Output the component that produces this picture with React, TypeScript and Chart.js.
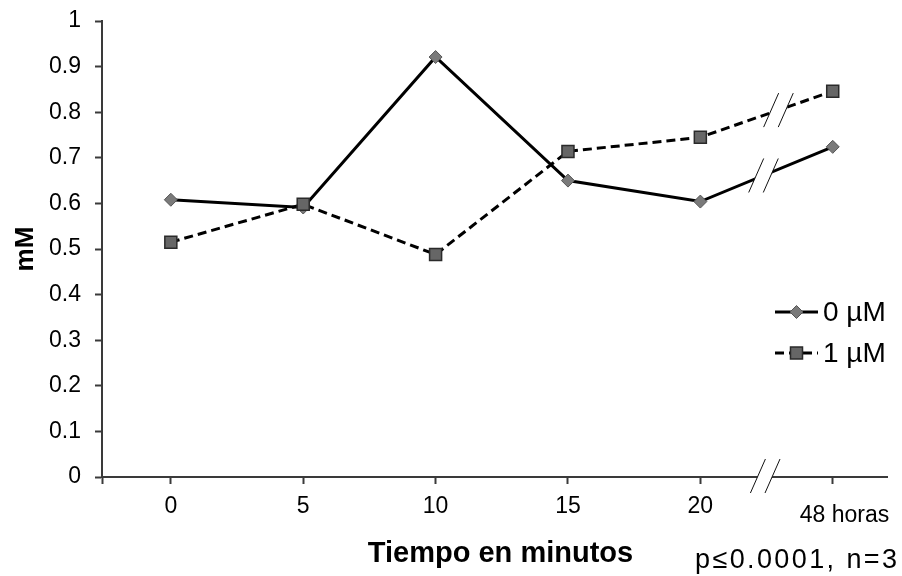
import React, { useEffect, useRef } from "react";
import { Chart, registerables } from "chart.js";

Chart.register(...registerables);

// ---- data ----
const categories = ["0", "5", "10", "15", "20", "48"];
const lastCategoryUnit = "horas";
const seriesLabels = ["0 µM", "1 µM"];
const series0 = [0.608, 0.591, 0.921, 0.65, 0.604, 0.724];
const series1 = [0.515, 0.598, 0.488, 0.714, 0.745, 0.846];
const yTicks = [0, 0.1, 0.2, 0.3, 0.4, 0.5, 0.6, 0.7, 0.8, 0.9, 1];
const xTitle = "Tiempo en minutos";
const yTitle = "mM";
const note = "p≤0.0001, n=3";

// axis range (in category-index units) and break positions
const X_MIN = -0.52;
const X_MAX = 5.41;
const AXIS_BREAK = 4.49;
const LINE_BREAKS = [4.477, 4.59];

const FONT = "'Liberation Sans', Arial, sans-serif";

function drawBreak(ctx: CanvasRenderingContext2D, cx: number, cy: number) {
  const hx = 7.5;
  const hy = 17;
  const sep = 7.3;
  ctx.save();
  ctx.fillStyle = "#ffffff";
  ctx.beginPath();
  ctx.moveTo(cx - sep - hx, cy + hy);
  ctx.lineTo(cx - sep + hx, cy - hy);
  ctx.lineTo(cx + sep + hx, cy - hy);
  ctx.lineTo(cx + sep - hx, cy + hy);
  ctx.closePath();
  ctx.fill();
  ctx.strokeStyle = "#111";
  ctx.lineWidth = 1;
  ctx.beginPath();
  ctx.moveTo(cx - sep - hx, cy + hy);
  ctx.lineTo(cx - sep + hx, cy - hy);
  ctx.moveTo(cx + sep - hx, cy + hy);
  ctx.lineTo(cx + sep + hx, cy - hy);
  ctx.stroke();
  ctx.restore();
}

function drawMarker(ctx: CanvasRenderingContext2D, ds: any, x: number, y: number) {
  const r = ds.pointRadius;
  ctx.save();
  ctx.fillStyle = ds.pointBackgroundColor;
  ctx.strokeStyle = ds.pointBorderColor;
  ctx.lineWidth = ds.pointBorderWidth;
  ctx.setLineDash([]);
  ctx.beginPath();
  if (ds.pointStyle === "rectRot") {
    ctx.moveTo(x - r, y);
    ctx.lineTo(x, y - r);
    ctx.lineTo(x + r, y);
    ctx.lineTo(x, y + r);
    ctx.closePath();
  } else {
    const s = r * Math.SQRT1_2;
    ctx.rect(x - s, y - s, 2 * s, 2 * s);
  }
  ctx.fill();
  ctx.stroke();
  ctx.restore();
}

const decorPlugin = {
  id: "decor",
  afterDraw(chart: any) {
    const ctx: CanvasRenderingContext2D = chart.ctx;
    const xs = chart.scales.x;
    const ys = chart.scales.y;
    const area = chart.chartArea;

    // break on the x axis
    drawBreak(ctx, xs.getPixelForValue(AXIS_BREAK), ys.getPixelForValue(0) - 1);

    // breaks on each line, between the last two points
    chart.data.datasets.forEach((ds: any, i: number) => {
      const meta = chart.getDatasetMeta(i);
      const n = meta.data.length;
      const p1 = meta.data[n - 2];
      const p2 = meta.data[n - 1];
      const bx = xs.getPixelForValue(LINE_BREAKS[i]);
      const t = (bx - p1.x) / (p2.x - p1.x);
      const by = p1.y + (p2.y - p1.y) * t;
      drawBreak(ctx, bx, by);
    });

    ctx.save();
    ctx.fillStyle = "#000";

    // last category label
    ctx.font = `23px ${FONT}`;
    ctx.textAlign = "left";
    ctx.textBaseline = "alphabetic";
    const lastX = xs.getPixelForValue(categories.length - 1);
    const lastText = `${categories[categories.length - 1]} ${lastCategoryUnit}`;
    ctx.fillText(lastText, lastX - 33, area.bottom + 45);

    // x title
    ctx.font = `bold 29px ${FONT}`;
    ctx.textAlign = "center";
    ctx.fillText(xTitle, (area.left + area.right) / 2 + 6, area.bottom + 85);

    // y title
    ctx.save();
    ctx.font = `bold 26px ${FONT}`;
    ctx.translate(area.left - 69, (area.top + area.bottom) / 2);
    ctx.rotate(-Math.PI / 2);
    ctx.textAlign = "center";
    ctx.fillText(yTitle, 0, 0);
    ctx.restore();

    // note
    ctx.font = `27px ${FONT}`;
    ctx.textAlign = "left";
    const w = ctx.measureText(note).width;
    const target = 202;
    (ctx as any).letterSpacing = `${Math.max(0, (target - w) / (note.length - 1))}px`;
    ctx.fillText(note, area.right - 192, area.bottom + 91);
    (ctx as any).letterSpacing = "0px";

    // legend
    const lx0 = area.right - 112;
    const lx1 = area.right - 69;
    const rows = [area.top + 291, area.top + 332];
    chart.data.datasets.forEach((ds: any, i: number) => {
      const y = rows[i];
      ctx.save();
      ctx.strokeStyle = ds.borderColor;
      ctx.lineWidth = ds.borderWidth;
      ctx.setLineDash(ds.borderDash || []);
      ctx.beginPath();
      ctx.moveTo(lx0, y);
      ctx.lineTo(lx1, y);
      ctx.stroke();
      ctx.restore();
      drawMarker(ctx, ds, (lx0 + lx1) / 2, y);
      ctx.fillStyle = "#000";
      ctx.font = `28px ${FONT}`;
      ctx.textAlign = "left";
      ctx.textBaseline = "middle";
      ctx.fillText(ds.label, lx1 + 5, y + 1);
    });
    ctx.restore();
  },
};

export default function App() {
  const ref = useRef<HTMLCanvasElement>(null);

  useEffect(() => {
    document.body.style.margin = "0";
    const canvas = ref.current!;
    const axisColor = "#3a3a3a";
    const chart = new Chart(canvas, {
      type: "line",
      data: {
        datasets: [
          {
            label: seriesLabels[0],
            data: series0.map((v, i) => ({ x: i, y: v })),
            borderColor: "#000",
            borderWidth: 3,
            pointStyle: "rectRot",
            pointRadius: 6.5,
            pointBackgroundColor: "#7a7a7a",
            pointBorderColor: "#555",
            pointBorderWidth: 1,
            tension: 0,
            order: 1,
          },
          {
            label: seriesLabels[1],
            data: series1.map((v, i) => ({ x: i, y: v })),
            borderColor: "#000",
            borderWidth: 3,
            borderDash: [9, 5],
            pointStyle: "rect",
            pointRadius: 8.5,
            pointBackgroundColor: "#666",
            pointBorderColor: "#2a2a2a",
            pointBorderWidth: 1.5,
            tension: 0,
            order: 0,
          },
        ] as any,
      },
      options: {
        responsive: false,
        animation: false,
        devicePixelRatio: 1,
        layout: { padding: { left: 0, top: 21, right: 15, bottom: 0 } },
        plugins: {
          legend: { display: false },
          tooltip: { enabled: false },
        },
        scales: {
          x: {
            type: "linear",
            min: X_MIN,
            max: X_MAX,
            afterBuildTicks: (scale: any) => {
              scale.ticks = [{ value: X_MIN }, ...categories.map((_, i) => ({ value: i }))];
            },
            afterFit: (scale: any) => {
              scale.height = 99;
              scale.paddingLeft = 0;
              scale.paddingRight = 0;
            },
            grid: {
              drawOnChartArea: false,
              drawTicks: true,
              tickLength: 7,
              tickColor: axisColor,
              tickWidth: 2,
            },
            border: { display: true, color: axisColor, width: 2 },
            ticks: {
              autoSkip: false,
              maxRotation: 0,
              padding: 9,
              color: "#000",
              font: { size: 23, family: FONT },
              callback: (value: any) =>
                Number.isInteger(value) && value < categories.length - 1 ? categories[value] : "",
            },
          },
          y: {
            type: "linear",
            min: 0,
            max: 1,
            afterBuildTicks: (scale: any) => {
              scale.ticks = yTicks.map((v) => ({ value: v }));
            },
            afterFit: (scale: any) => {
              scale.width = 102;
              scale.paddingTop = 0;
              scale.paddingBottom = 0;
            },
            grid: {
              drawOnChartArea: false,
              drawTicks: true,
              tickLength: 7,
              tickColor: axisColor,
              tickWidth: 2,
            },
            border: { display: true, color: axisColor, width: 2 },
            ticks: {
              padding: 14,
              color: "#000",
              font: { size: 23, family: FONT },
              callback: (value: any) => String(value),
            },
          },
        },
      } as any,
      plugins: [decorPlugin],
    });
    return () => chart.destroy();
  }, []);

  return (
    <div style={{ width: 902, height: 576, background: "#fff" }}>
      <canvas ref={ref} width={902} height={576} style={{ display: "block" }} />
    </div>
  );
}
